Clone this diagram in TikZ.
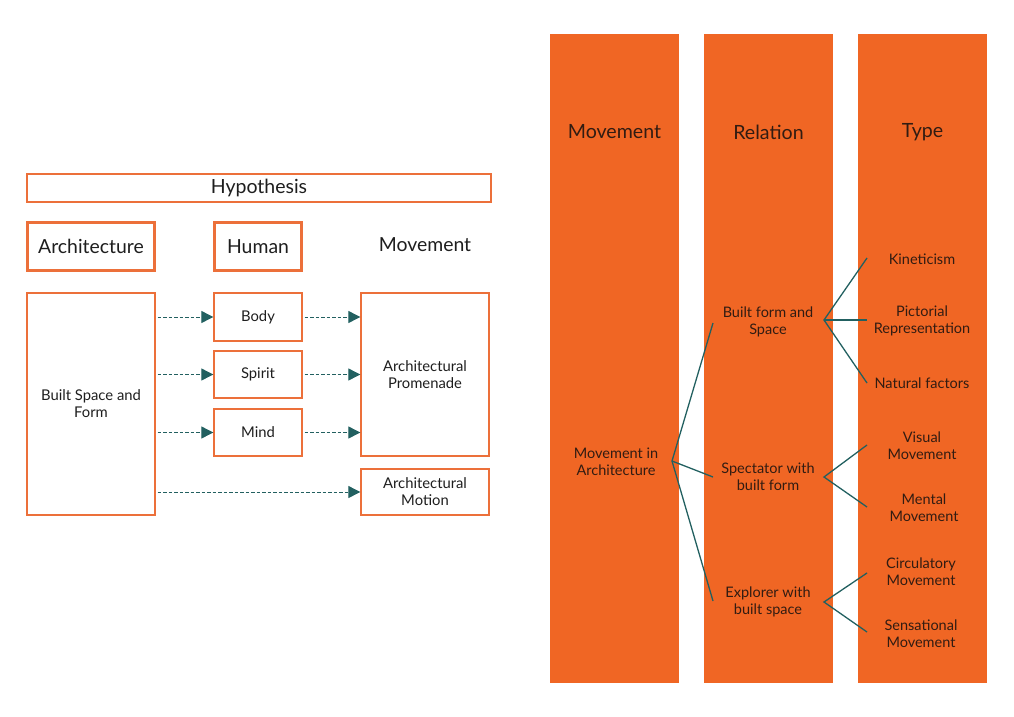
\documentclass[tikz,border=0pt]{standalone}
\usepackage{fontspec}
\setmainfont{Lato}
\usetikzlibrary{arrows.meta}
\definecolor{orng}{RGB}{240,102,36}
\definecolor{bord}{RGB}{236,112,58}
\definecolor{teal}{RGB}{34,96,96}
\definecolor{dtext}{RGB}{50,28,18}
\definecolor{ltext}{RGB}{30,30,30}
\begin{document}
\begin{tikzpicture}[x=1pt,y=-1pt,
  thinbox/.style={draw=bord,line width=1.3pt,text=ltext,inner sep=0pt,align=center,font=\fontsize{14.8}{17}\selectfont},
  thickbox/.style={draw=bord,line width=2.8pt,text=ltext,inner sep=0pt,font=\fontsize{19.4}{22}\selectfont},
  col/.style={fill=orng,draw=none,inner sep=0pt,minimum width=129pt,minimum height=649pt},
  hdr/.style={text=dtext,font=\fontsize{19.6}{22}\selectfont},
  lbl/.style={text=dtext,align=center,font=\fontsize{14.5}{17}\selectfont},
  darr/.style={draw=teal,line width=0.9pt,dash pattern=on 3.5pt off 2pt,-{Triangle[length=12pt,width=12pt,fill=teal]}},
  tline/.style={draw=teal,line width=1.3pt}]
\useasboundingbox (0,0) rectangle (1014,717);
% left part
\node[thinbox,minimum width=464pt,minimum height=28pt,font=\fontsize{19.5}{22}\selectfont] (hyp) at (259,188) {Hypothesis};
\node[thickbox,minimum width=127pt,minimum height=48pt] (arch) at (91,246.5) {Architecture};
\node[thickbox,minimum width=87pt,minimum height=48pt] (human) at (258,246.5) {Human};
\node[text=ltext,font=\fontsize{19.4}{22}\selectfont] (mov) at (425,245) {Movement};
\node[thinbox,minimum width=128pt,minimum height=222pt] (built) at (91,404) {Built Space and\\Form};
\node[thinbox,minimum width=88pt,minimum height=48pt] (body) at (258,317) {Body};
\node[thinbox,minimum width=88pt,minimum height=47pt] (spirit) at (258,374.5) {Spirit};
\node[thinbox,minimum width=88pt,minimum height=47pt] (mind) at (258,432.5) {Mind};
\node[thinbox,minimum width=128pt,minimum height=163pt] (prom) at (425,374.5) {Architectural\\Promenade};
\node[thinbox,minimum width=128pt,minimum height=46pt] (motion) at (425,492) {Architectural\\Motion};
\foreach \n in {body,spirit,mind}{
  \draw[darr,shorten <=2pt] (built.east |- \n.west) -- (\n.west);
  \draw[darr,shorten <=2pt] (\n.east) -- (prom.west |- \n.east);
}
\draw[darr,shorten <=2pt] (built.east |- motion.west) -- (motion.west);
% right part
\node[col] (c1) at (614.5,358.5) {};
\node[col] (c2) at (768.5,358.5) {};
\node[col] (c3) at (922.5,358.5) {};
\node[hdr] (h1) at (614.5,132) {Movement};
\node[hdr] (h2) at (768.5,132) {Relation};
\node[hdr] (h3) at (922.5,132) {Type};
\node[lbl] (mia) at (616,462) {Movement in\\Architecture};
\node[lbl] (bfs) at (768,322) {Built form and\\Space};
\node[lbl] (swb) at (768,477) {Spectator with\\built form};
\node[lbl] (ewb) at (768,602) {Explorer with\\built space};
\node[lbl] (kin) at (922,259) {Kineticism};
\node[lbl] (pic) at (922,321) {Pictorial\\Representation};
\node[lbl] (nat) at (922,383) {Natural factors};
\node[lbl] (vis) at (922,446) {Visual\\Movement};
\node[lbl] (men) at (924,508) {Mental\\Movement};
\node[lbl] (cir) at (921,572) {Circulatory\\Movement};
\node[lbl] (sen) at (921,634) {Sensational\\Movement};
\coordinate (r0) at (672,461);
\coordinate (r1) at (713,323);
\coordinate (r2) at (713,477);
\coordinate (r3) at (713,601);
\coordinate (b1) at (824,320);
\coordinate (b2) at (824,477);
\coordinate (b3) at (824,602);
\draw[tline] (r1) -- (r0) -- (r3);
\draw[tline] (r0) -- (r2);
\draw[tline] (867,258) -- (b1) -- (867,383);
\draw[tline] (b1) -- (867,320);
\draw[tline] (867,445) -- (b2) -- (867,507);
\draw[tline] (867,573) -- (b3) -- (867,632);
\end{tikzpicture}
\end{document}
